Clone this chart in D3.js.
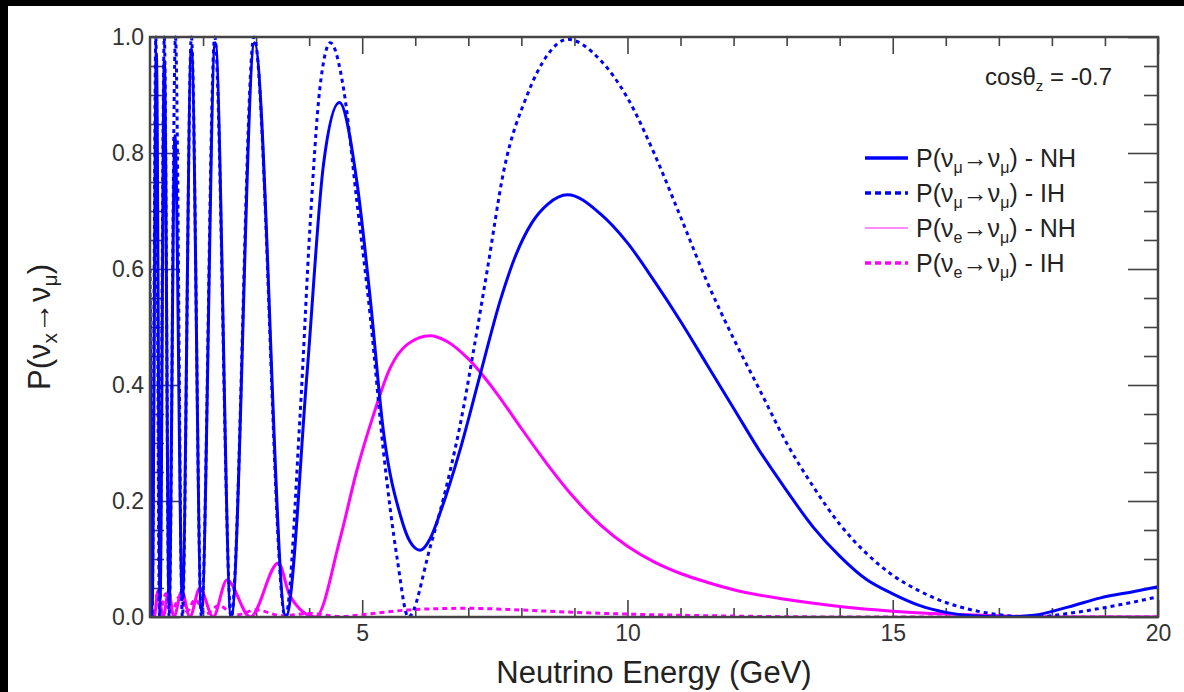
<!DOCTYPE html>
<html><head><meta charset="utf-8">
<script src="https://cdn.jsdelivr.net/npm/d3@7"></script>
<style>
html,body{margin:0;padding:0;background:#000;}
svg{display:block;}
text{font-family:"Liberation Sans",Arial,Helvetica,sans-serif;}
</style></head>
<body>
<svg id="c" width="1184" height="692"></svg>
<script>
// ---- data ----
const numuNH_E = [1.00,1.04,1.12,1.19,1.27,1.36,1.47,1.61,1.78,1.97,2.23,2.53,2.97,3.56,3.96,4.27,4.57,4.90,5.15,5.40,5.72,5.90,6.09,6.28,6.47,6.85,7.23,7.60,7.90,8.20,8.50,8.87,9.49,10.00,10.50,11.00,11.50,12.00,12.50,13.00,13.50,14.00,14.50,15.00,15.50,16.00,16.50,17.04,17.66,18.30,18.92,19.55,20.00];
const numuNH_P = [0.55,0.02,0.97,0.03,0.96,0.02,0.83,0.03,0.98,0.01,0.99,0.00,0.99,0.00,0.42,0.78,0.887,0.75,0.55,0.32,0.175,0.13,0.115,0.135,0.18,0.29,0.42,0.545,0.625,0.68,0.712,0.728,0.695,0.645,0.58,0.51,0.435,0.36,0.285,0.218,0.155,0.105,0.065,0.04,0.02,0.008,0.002,0.000,0.003,0.017,0.033,0.044,0.052];

const numuIH_E = [1.00,1.04,1.11,1.18,1.27,1.36,1.48,1.61,1.78,1.97,2.22,2.53,2.96,3.55,3.83,4.02,4.20,4.40,4.65,4.90,5.15,5.40,5.66,5.87,6.28,6.66,6.85,7.10,7.36,7.67,8.11,8.50,8.87,9.49,10.00,10.50,11.00,11.50,12.00,12.50,13.00,13.50,14.00,14.50,15.00,15.50,16.00,16.50,17.00,17.66,18.30,18.92,19.55,20.00];
const numuIH_P = [0.60,0.00,1.00,0.00,1.00,0.00,1.00,0.00,1.00,0.00,1.00,0.00,1.00,0.00,0.35,0.68,0.91,0.99,0.91,0.716,0.52,0.286,0.10,0.00,0.12,0.253,0.333,0.46,0.60,0.77,0.90,0.97,0.996,0.96,0.895,0.80,0.69,0.578,0.48,0.39,0.30,0.225,0.16,0.11,0.072,0.045,0.025,0.012,0.004,0.000,0.006,0.015,0.026,0.035];

const nueNH_E = [1.00,1.08,1.15,1.25,1.35,1.45,1.60,1.75,1.94,2.19,2.45,2.89,3.42,3.64,4.12,4.58,4.90,5.20,5.53,5.85,6.28,6.60,7.00,7.50,8.00,8.50,9.00,9.50,10.00,10.50,11.00,11.50,12.00,13.00,14.00,15.00,16.00,17.00,18.00,20.00];
const nueNH_P = [0.030,0.000,0.045,0.000,0.045,0.000,0.045,0.000,0.050,0.000,0.064,0.000,0.093,0.036,0.000,0.134,0.253,0.345,0.430,0.470,0.485,0.475,0.445,0.390,0.325,0.262,0.205,0.158,0.122,0.095,0.075,0.060,0.047,0.030,0.018,0.010,0.005,0.002,0.000,0.000];

const nueIH_E = [1.00,1.10,1.20,1.30,1.42,1.55,1.70,1.85,2.05,2.30,2.60,3.00,3.50,4.00,4.60,5.20,6.00,7.00,8.00,9.00,10.00,11.00,12.50,14.00,20.00];
const nueIH_P = [0.030,0.040,0.015,0.040,0.010,0.035,0.010,0.030,0.005,0.020,0.003,0.012,0.002,0.006,0.001,0.006,0.013,0.015,0.012,0.008,0.005,0.003,0.001,0.000,0.000];

const xMajorTicks = [5,10,15,20];
const xMinorTicks = [2,3,4,6,7,8,9,11,12,13,14,16,17,18,19];
const yMajorTicks = [0,0.2,0.4,0.6,0.8,1.0];
const yMinorTicks = [0.05,0.1,0.15,0.25,0.3,0.35,0.45,0.5,0.55,0.65,0.7,0.75,0.85,0.9,0.95];

const legendLabels = [
  {a:"μ", b:"μ", h:"NH"},
  {a:"μ", b:"μ", h:"IH"},
  {a:"e", b:"μ", h:"NH"},
  {a:"e", b:"μ", h:"IH"}
];

// ---- drawing ----
const svg = d3.select("#c");
svg.append("rect").attr("x",8).attr("y",6).attr("width",1184-8).attr("height",692-6).attr("fill","#fff");

const L=150, R=1158, T=37, B=617;
const x = d3.scaleLinear().domain([1,20]).range([L,R]);
const y = d3.scaleLinear().domain([0,1]).range([B,T]);

const axisCol = "#444";
function styleAxis(g){
  g.select(".domain").remove();
  g.selectAll(".tick line").attr("stroke",axisCol).attr("stroke-width",1.6);
  g.selectAll(".tick text").attr("fill","#333").style("font-size","23px").style("font-family","'Liberation Sans',Arial,sans-serif");
}
// bottom
svg.append("g").attr("transform",`translate(0,${B})`)
  .call(d3.axisBottom(x).tickValues(xMajorTicks).tickSize(-17).tickPadding(8).tickFormat(d3.format("d")))
  .call(styleAxis);
svg.append("g").attr("transform",`translate(0,${B})`)
  .call(d3.axisBottom(x).tickValues(xMinorTicks).tickSize(-9).tickFormat(""))
  .call(styleAxis);
// top
svg.append("g").attr("transform",`translate(0,${T})`)
  .call(d3.axisTop(x).tickValues(xMajorTicks).tickSize(-17).tickFormat(""))
  .call(styleAxis);
svg.append("g").attr("transform",`translate(0,${T})`)
  .call(d3.axisTop(x).tickValues(xMinorTicks).tickSize(-9).tickFormat(""))
  .call(styleAxis);
// left
svg.append("g").attr("transform",`translate(${L},0)`)
  .call(d3.axisLeft(y).tickValues(yMajorTicks).tickSize(-30).tickPadding(6).tickFormat(d3.format(".1f")))
  .call(styleAxis);
svg.append("g").attr("transform",`translate(${L},0)`)
  .call(d3.axisLeft(y).tickValues(yMinorTicks).tickSize(-14).tickFormat(""))
  .call(styleAxis);
// right
svg.append("g").attr("transform",`translate(${R},0)`)
  .call(d3.axisRight(y).tickValues(yMajorTicks).tickSize(-30).tickFormat(""))
  .call(styleAxis);
svg.append("g").attr("transform",`translate(${R},0)`)
  .call(d3.axisRight(y).tickValues(yMinorTicks).tickSize(-14).tickFormat(""))
  .call(styleAxis);

// clip
svg.append("clipPath").attr("id","clip").append("rect").attr("x",L).attr("y",T-2).attr("width",R-L).attr("height",B-T+2);

const line = d3.line().x(d=>x(d[0])).y(d=>y(d[1])).curve(d3.curveMonotoneX);
const zip = (a,b)=>a.map((v,i)=>[v,b[i]]);
const plot = svg.append("g").attr("clip-path","url(#clip)");

const series = [
  {E:nueIH_E, P:nueIH_P, col:"#ff00ff", w:3, dash:"5,4"},
  {E:nueNH_E, P:nueNH_P, col:"#ff00ff", w:3, dash:null},
  {E:numuIH_E, P:numuIH_P, col:"#0000ff", w:3, dash:"4,4"},
  {E:numuNH_E, P:numuNH_P, col:"#0000ff", w:3, dash:null}
];
series.forEach(s=>{
  plot.append("path").datum(zip(s.E,s.P)).attr("d",line)
    .attr("fill","none").attr("stroke",s.col).attr("stroke-width",s.w)
    .attr("stroke-dasharray",s.dash).attr("stroke-linejoin","round");
});

// frame
svg.append("rect").attr("x",L).attr("y",T).attr("width",R-L).attr("height",B-T)
  .attr("fill","none").attr("stroke",axisCol).attr("stroke-width",2.5);

// axis titles
svg.append("text").attr("x",(L+R)/2).attr("y",683).attr("text-anchor","middle")
  .attr("fill","#222").style("font-size","31px").text("Neutrino Energy (GeV)");

const yt = svg.append("text").attr("transform",`translate(50,${(T+B)/2}) rotate(-90)`)
  .attr("text-anchor","middle").attr("fill","#222").style("font-size","31px");
yt.append("tspan").text("P(ν");
yt.append("tspan").attr("dy",7).style("font-size","21px").text("x");
yt.append("tspan").attr("dy",-7).text("→ν");
yt.append("tspan").attr("dy",7).style("font-size","21px").text("μ");
yt.append("tspan").attr("dy",-7).text(")");

// annotation
const an = svg.append("text").attr("x",1112).attr("y",85).attr("text-anchor","end")
  .attr("fill","#222").style("font-size","24px");
an.append("tspan").text("cosθ");
an.append("tspan").attr("dy",6).style("font-size","15px").text("z");
an.append("tspan").attr("dy",-6).text(" = -0.7");

// legend
const legStyles = [
  {col:"#0000ff", w:3.5, dash:null},
  {col:"#0000ff", w:3.5, dash:"6,4"},
  {col:"#ff66ff", w:1.5, dash:null},
  {col:"#ff00ff", w:3.5, dash:"6,4"}
];
const legY = [158,193,228,263];
legendLabels.forEach((d,i)=>{
  const g = svg.append("g").attr("transform",`translate(0,${legY[i]})`);
  g.append("line").attr("x1",865).attr("x2",908).attr("y1",0).attr("y2",0)
    .attr("stroke",legStyles[i].col).attr("stroke-width",legStyles[i].w).attr("stroke-dasharray",legStyles[i].dash);
  const t = g.append("text").attr("x",916).attr("y",9).attr("fill","#222").style("font-size","25px");
  t.append("tspan").text("P(ν");
  t.append("tspan").attr("dy",6).style("font-size","16px").text(d.a);
  t.append("tspan").attr("dy",-6).text("→ν");
  t.append("tspan").attr("dy",6).style("font-size","16px").text(d.b);
  t.append("tspan").attr("dy",-6).text(") - " + d.h);
});
</script>
</body></html>
